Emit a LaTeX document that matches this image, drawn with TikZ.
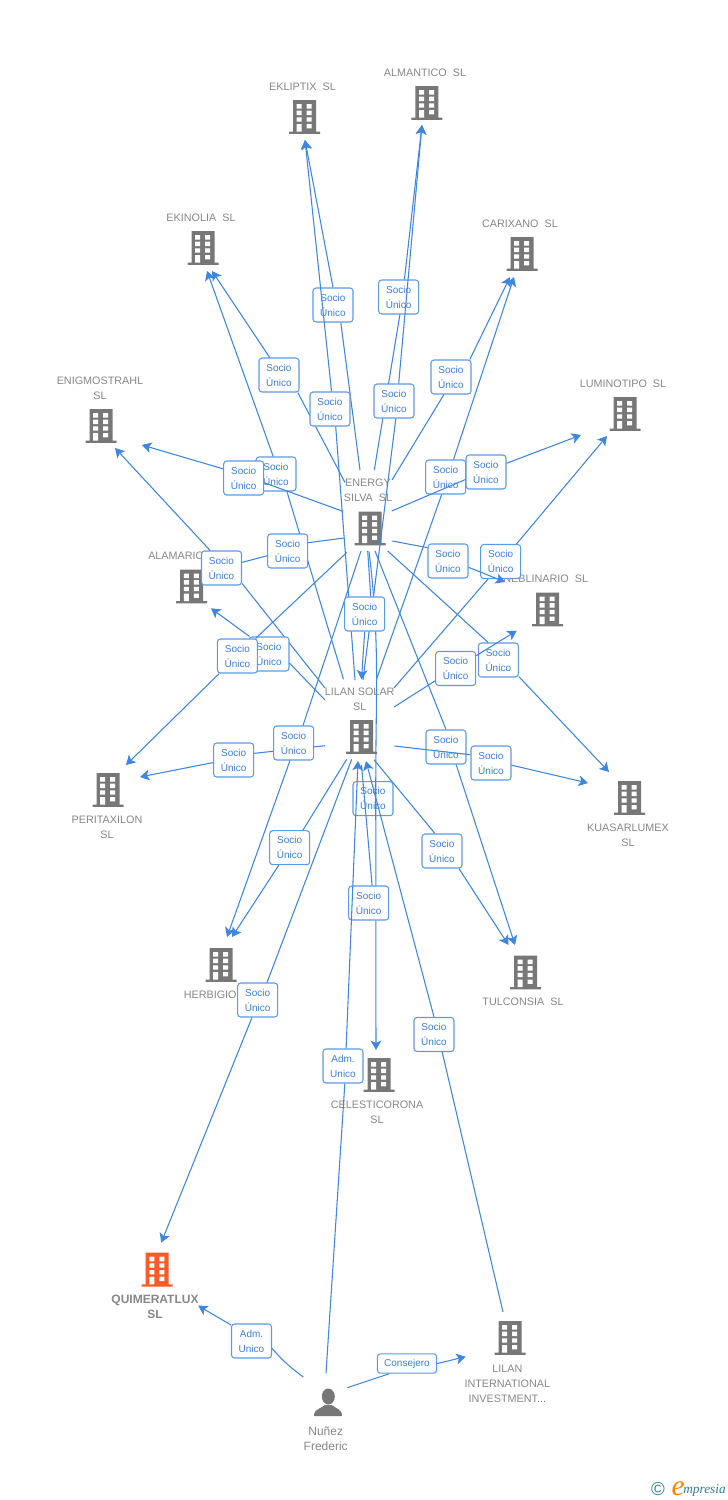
\documentclass[tikz,border=0pt]{standalone}
\usepackage{fontspec}
\setmainfont{Liberation Sans}
\newfontfamily\brandfont{Liberation Serif}
\usetikzlibrary{calc,arrows.meta}
\definecolor{icongray}{HTML}{777777}
\definecolor{textgray}{HTML}{878787}
\definecolor{linkblue}{HTML}{3F86E2}
\definecolor{boxblue}{HTML}{5C9BE6}
\definecolor{roleblue}{HTML}{3C7FDC}
\definecolor{flame}{HTML}{FF5A26}
\definecolor{brandteal}{HTML}{2F7C9A}
\tikzset{
	pics/firmicon/.style={code={
		\fill[#1] (-11.5,-17) rectangle (11.5,15) (-15.5,14.7) rectangle (15.5,16.9);
		\fill[white] (-7.8,-13) rectangle (-2.8,-8.4) (2.2,-13) rectangle (7.2,-8.4)
			(-7.8,-6.4) rectangle (-2.8,-2) (2.2,-6.4) rectangle (7.2,-2)
			(-7.8,.3) rectangle (-2.8,4.7) (2.2,.3) rectangle (7.2,4.7)
			(-7.8,7) rectangle (-2.8,14.7) (2.2,7) rectangle (7.2,11.4);
	}},
	pics/personicon/.style={code={
		\fill[icongray] (.3,-6.5) ellipse (6.5 and 8);
		\fill[icongray] (-14,13) .. controls (-14,6) and (-8,6) .. (-3,2) -- (3.6,2) .. controls (8.6,6) and (14,6) .. (14,13) -- cycle;
	}}
}
\newcommand{\firm}[3][icongray]{
	\node[firmbox] (#2) at (#3) {};
	\pic at (#2) {firmicon=#1};
}
\begin{document}
\begin{tikzpicture}[
		x=.75pt,y=-.75pt,
		firmbox/.style={minimum width=23.25pt,minimum height=25.5pt,inner sep=0pt},
		firmtext/.style={text=textgray,font=\fontsize{8.1}{11.25}\selectfont,align=center,inner sep=0pt,yshift=-.6pt},
		rolebox/.style={draw=boxblue,fill=white,rounded corners=2.25pt,line width=.8pt,text=roleblue,
			font=\fontsize{7.5}{11.25}\selectfont,align=center,minimum width=30pt,minimum height=25.5pt,inner sep=0pt},
		link/.style={draw=linkblue,line width=.8pt},
		linkto/.style={link,-{Stealth[length=7pt,width=8pt,inset=1.7pt]}}
	]
	\useasboundingbox (0,0) rectangle (728,1500);

	% companies
	\firm{ekliptix}{304.5,117}
	\node[firmtext] (ekliptixname) at (302.5,86) {EKLIPTIX\ \ SL};
	\firm{almantico}{426.8,103}
	\node[firmtext] (almanticoname) at (425,72) {ALMANTICO\ \ SL};
	\firm{ekinolia}{203,248}
	\node[firmtext] (ekinolianame) at (201,217) {EKINOLIA\ \ SL};
	\firm{carixano}{522,254}
	\node[firmtext] (carixanoname) at (520,223) {CARIXANO\ \ SL};
	\firm{luminotipo}{625,414}
	\node[firmtext] (luminotiponame) at (623,383) {LUMINOTIPO\ \ SL};
	\firm{enigmostrahl}{101,426}
	\node[firmtext] (enigmostrahlname) at (100,387.5) {ENIGMOSTRAHL\\SL};
	\firm{alamario}{191.7,586.5}
	\node[firmtext,anchor=west] (alamarioname) at (148,555) {ALAMARIO};
	\firm{neblinario}{547.5,609.5}
	\node[firmtext] (neblinarioname) at (545.7,578) {NEBLINARIO\ \ SL};
	\firm{peritaxilon}{108,790}
	\node[firmtext] (peritaxilonname) at (107,826.5) {PERITAXILON\\SL};
	\firm{kuasarlumex}{629.5,798}
	\node[firmtext] (kuasarlumexname) at (628,834.5) {KUASARLUMEX\\SL};
	\firm{herbigio}{221,965}
	\node[firmtext,anchor=west] (herbigioname) at (183.5,994) {HERBIGIO};
	\firm{tulconsia}{525.5,972.5}
	\node[firmtext] (tulconsianame) at (523,1001) {TULCONSIA\ \ SL};
	\firm{celesticorona}{379,1075}
	\node[firmtext] (celesticoronaname) at (377,1111.5) {CELESTICORONA\\SL};
	\firm[flame]{quimeratlux}{157.2,1269.7}
	\node[firmtext,font=\fontsize{9}{11.25}\selectfont\bfseries] (quimeratluxname) at (155,1306.5) {QUIMERATLUX\\SL};
	\firm{lilanint}{510,1338}
	\node[firmtext] (lilanintname) at (507.3,1383) {LILAN\\INTERNATIONAL\\INVESTMENT...};
	\firm{energy}{370,528.5}
	\node[firmtext] (energyname) at (368,489.5) {ENERGY\\SILVA\ \ SL};
	\firm{lilan}{361.5,737}
	\node[firmtext] (lilanname) at (359.7,698.5) {LILAN SOLAR\\SL};

	% person
	\node[firmbox] (nunez) at (328,1403) {};
	\pic at (nunez) {personicon};
	\node[firmtext,font=\fontsize{9}{11.25}\selectfont] (nunezname) at (325.7,1437.5) {Nuñez\\Frederic};

	% energy and lilan to the top
	\node[rolebox] (ekliptixa) at (333,305) {Socio\\Único};
	\draw[link] ($(energy)+(-10,-58.5)$) -- (ekliptixa.-66);
	\draw[linkto] (ekliptixa.north) -- ($(ekliptix)+(.5,23)$);
	\node[rolebox] (almanticoa) at (398.7,297) {Socio\\Único};
	\draw[link] ($(energy)+(4.3,-58.5)$) -- (almanticoa.-86);
	\draw[linkto] (almanticoa.72) -- ($(almantico)+(-4.8,22)$);
	\node[rolebox] (ekinoliaa) at (279,375) {Socio\\Único};
	\draw[link] ($(energy)+(-25,-46)$) -- (ekinoliaa.-43);
	\draw[linkto] (ekinoliaa.118) -- ($(ekinolia)+(9,23)$);
	\node[rolebox] (carixanoa) at (451,377) {Socio\\Único};
	\draw[link] ($(energy)+(22,-48.5)$) -- (carixanoa.-112);
	\draw[linkto] (carixanoa.43) -- ($(carixano)+(-12,23)$);
	\node[rolebox] (ekliptixb) at (330,409) {Socio\\Único};
	\draw[link] ($(lilan)+(-6.5,-57)$) -- (ekliptixb.-72);
	\draw[linkto] (ekliptixb.85) -- ($(ekliptix)+(.5,23)$);
	\node[rolebox] (almanticob) at (394,401) {Socio\\Único};
	\draw[link] ($(lilan)+(1.5,-57)$) -- (almanticob.-84);
	\draw[linkto] (almanticob.75) -- ($(almantico)+(-4.8,22)$);
	\node[rolebox] (ekinoliab) at (276,474) {Socio\\Único};
	\draw[link] ($(lilan)+(-18,-57.7)$) -- (ekinoliab.-58);
	\draw[linkto] (ekinoliab.99) -- ($(ekinolia)+(4,23)$);
	\node[rolebox] (carixanob) at (445.7,477) {Socio\\Único};
	\draw[link] ($(lilan)+(15,-57.7)$) -- (carixanob.-103);
	\draw[linkto] (carixanob.66) -- ($(carixano)+(-8,23)$);

	% sides
	\node[rolebox] (enigmostrahla) at (243.7,478) {Socio\\Único};
	\draw[link] ($(energy)+(-26.7,-17)$) -- (enigmostrahla.-13);
	\draw[linkto] (enigmostrahla.156) -- ($(enigmostrahl)+(41,19)$);
	\node[rolebox] (luminotipoa) at (486,472) {Socio\\Único};
	\draw[link] ($(energy)+(21.7,-17.5)$) -- (luminotipoa.-160);
	\draw[linkto] (luminotipoa.23) -- ($(luminotipo)+(-44,21)$);
	\node[rolebox] (alamarioa) at (287.7,551) {Socio\\Único};
	\draw[link] ($(energy)+(-26,9.5)$) -- (alamarioa.22);
	\draw[linkto] (alamarioa.-167) -- ($(alamario)+(21.3,-16.5)$);
	\node[rolebox] (enigmostrahlb) at (221.5,568) {Socio\\Único};
	\draw[link] ($(lilan)+(-36.5,-49)$) -- (enigmostrahlb.-37);
	\draw[linkto] (enigmostrahlb.123) -- ($(enigmostrahl)+(14,22)$);
	\node[rolebox] (luminotipob) at (500.7,561.5) {Socio\\Único};
	\draw[link] ($(lilan)+(32.5,-49)$) -- (luminotipob.-126);
	\draw[linkto] (luminotipob.48) -- ($(luminotipo)+(-18,22)$);
	\node[rolebox] (neblinarioa) at (448,561) {Socio\\Único};
	\draw[link] ($(energy)+(22.3,12.5)$) -- (neblinarioa.147);
	\draw[linkto] (neblinarioa.-17) -- ($(neblinario)+(-42.5,-27.5)$);
	\node[rolebox] (alamariob) at (269,654) {Socio\\Único};
	\draw[link] ($(lilan)+(-36.5,-37)$) -- (alamariob.-24);
	\draw[linkto] (alamariob.138) -- ($(alamario)+(19.3,21.8)$);
	\node[rolebox] (peritaxilona) at (237.4,656) {Socio\\Único};
	\draw[link] ($(energy)+(-23.3,24)$) -- (peritaxilona.44);
	\draw[linkto] (peritaxilona.-136) -- ($(peritaxilon)+(18,-25)$);
	\node[rolebox] (kuasarlumexa) at (498.3,660) {Socio\\Único};
	\draw[link] ($(energy)+(17.7,22.5)$) -- (kuasarlumexa.120);
	\draw[linkto] (kuasarlumexa.-39) -- ($(kuasarlumex)+(-20.5,-26)$);
	\node[rolebox] (neblinariob) at (455.7,668.5) {Socio\\Único};
	\draw[link] ($(lilan)+(32.5,-30)$) -- (neblinariob.-149);
	\draw[linkto] (neblinariob.32) -- ($(neblinario)+(-30.8,21.2)$);
	\node[rolebox] (peritaxilonb) at (233.7,760) {Socio\\Único};
	\draw[link] ($(lilan)+(-36.5,8.7)$) -- (peritaxilonb.18);
	\draw[linkto] (peritaxilonb.-173) -- ($(peritaxilon)+(32,-13)$);
	\node[rolebox] (tulconsiaa) at (446,747) {Socio\\Único};
	\draw[link] ($(energy)+(5,22.5)$) -- (tulconsiaa.north);
	\draw[linkto] (tulconsiaa.-60) -- ($(tulconsia)+(-10.5,-27.5)$);
	\node[rolebox] (kuasarlumexb) at (491,763) {Socio\\Único};
	\draw[link] ($(lilan)+(32.8,9)$) -- (kuasarlumexb.158);
	\draw[linkto] (kuasarlumexb.-6) -- ($(kuasarlumex)+(-41.5,-15)$);

	% to the bottom
	\node[rolebox] (herbigioa) at (293.7,743) {Socio\\Único};
	\draw[link] ($(energy)+(-9,22.5)$) -- (herbigioa.62);
	\draw[linkto] (herbigioa.-102) -- ($(herbigio)+(6,-28)$);
	\node[rolebox] (herbigiob) at (289.7,847.7) {Socio\\Único};
	\draw[link] ($(lilan)+(-14.8,22.3)$) -- (herbigiob.53);
	\draw[linkto] (herbigiob.-122) -- ($(herbigio)+(11,-28)$);
	\node[rolebox] (tulconsiab) at (442,851) {Socio\\Único};
	\draw[link] ($(lilan)+(12.5,22.7)$) -- (tulconsiab.112);
	\draw[linkto] (tulconsiab.-46) -- ($(tulconsia)+(-17,-27.5)$);
	\node[rolebox] (quimeratluxa) at (257.7,1000) {Socio\\Único};
	\draw[link] ($(lilan)+(-9.8,22.3)$) -- (quimeratluxa.62);
	\draw[linkto] (quimeratluxa.-108) -- ($(quimeratlux)+(4,-27)$);
	\node[rolebox] (celesticoronab) at (373,798.7) {Socio\\Único};
	\node[rolebox] (celesticoronaa) at (368.7,903) {Socio\\Único};
	\draw[link] ($(energy)+(-1,23)$) to[out=-83,in=90] (celesticoronab.81);
	\draw[link] (celesticoronab.81) -- (celesticoronaa.68);
	\draw[link] ($(lilan)+(0,28)$) -- (celesticoronaa.79);
	\draw[linkto] (celesticoronaa.-68) -- ($(celesticorona)+(-3,-25)$);

	% into lilan
	\node[rolebox] (lilana) at (364.7,614) {Socio\\Único};
	\draw[link] ($(energy)+(-2.3,22.5)$) -- (lilana.71);
	\draw[linkto] (lilana.south) -- ($(lilan)+(0,-57.5)$);
	\node[rolebox] (lilanb) at (434,1034.5) {Socio\\Único};
	\draw[link] ($(lilanint)+(-7,-26)$) -- (lilanb.-65);
	\draw[linkto] (lilanb.north) -- ($(lilan)+(4.5,24)$);
	\node[rolebox] (lilanc) at (343,1066) {Adm.\\Unico};
	\draw[link] ($(nunez)+(-2,-29.7)$) -- (lilanc.-84);
	\draw[linkto] (lilanc.80) -- ($(lilan)+(-3.5,24)$);

	% nunez
	\node[rolebox] (quimeratluxb) at (251.5,1341) {Adm.\\Unico};
	\draw[link] ($(nunez)+(-24.7,-26)$) to[bend left=6] (quimeratluxb.-20);
	\draw[linkto] (quimeratluxb.142) -- ($(quimeratlux)+(41,36)$);
	\node[rolebox,minimum width=44.5pt,minimum height=14.5pt] (lilanintb) at (407,1363.5) {Consejero};
	\draw[link] ($(nunez)+(19.3,-15.3)$) -- (lilanintb.-150);
	\draw[linkto] (lilanintb.east) -- ($(lilanint)+(-44.3,18.7)$);

	% mark
	\node[text=brandteal,font=\fontsize{14}{14}\selectfont,inner sep=0pt] (copymark) at (658,1489) {©};
	\node[text=brandteal,font=\brandfont\itshape\fontsize{10}{12}\selectfont,inner sep=0pt,anchor=base west] (brandname) at (683,1493) {mpresia};
	\node[text=orange,font=\brandfont\itshape\fontsize{22}{22}\selectfont,inner sep=0pt,anchor=base east] (brandletter) at (685,1495) {e};
\end{tikzpicture}
\end{document}
